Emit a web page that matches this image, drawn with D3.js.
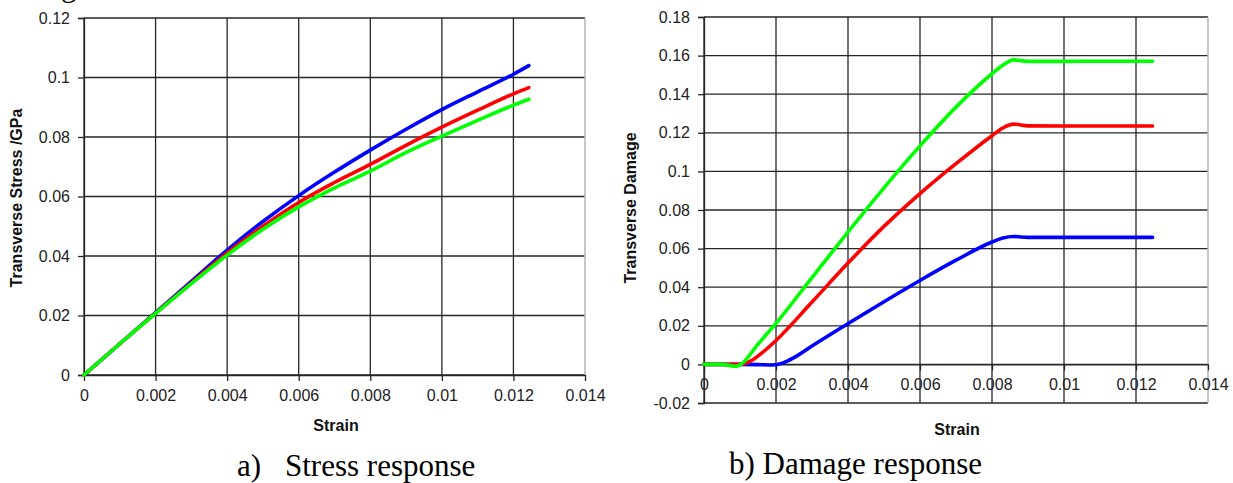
<!DOCTYPE html>
<html>
<head>
<meta charset="utf-8">
<script src="https://cdn.jsdelivr.net/npm/d3@7"></script>
<style>
  html, body { margin: 0; padding: 0; background: #fff; }
  svg { display: block; }
</style>
</head>
<body>
<svg id="chart" width="1233" height="483"></svg>
<script>
// ---------- data ----------
const stressX = [0, 0.001, 0.002, 0.003, 0.004, 0.005, 0.006, 0.007, 0.008, 0.009, 0.010, 0.011, 0.012, 0.01243];
const stressBlue  = [0, 0.0105, 0.0210, 0.0315, 0.0420, 0.0516, 0.0603, 0.0682, 0.0756, 0.0826, 0.0892, 0.0952, 0.1011, 0.1040];
const stressRed   = [0, 0.0105, 0.0208, 0.0310, 0.0410, 0.0500, 0.0580, 0.0647, 0.0708, 0.0772, 0.0833, 0.0890, 0.0945, 0.0966];
const stressGreen = [0, 0.0105, 0.0207, 0.0307, 0.0403, 0.0490, 0.0565, 0.0629, 0.0685, 0.0748, 0.0803, 0.0856, 0.0907, 0.0927];

const damageBlueX = [0, 0.0005, 0.001, 0.0015, 0.0019, 0.0022, 0.0025, 0.003, 0.004, 0.005, 0.006, 0.007, 0.008, 0.0083, 0.0086, 0.009, 0.010, 0.011, 0.012, 0.01246];
const damageBlue  = [0, 0, 0, -0.0001, -0.0003, 0.0008, 0.0035, 0.0095, 0.0211, 0.0325, 0.0435, 0.0540, 0.0634, 0.0655, 0.0663, 0.0658, 0.0658, 0.0658, 0.0658, 0.0658];
const damageRedX  = [0, 0.0005, 0.001, 0.0013, 0.0016, 0.002, 0.003, 0.004, 0.005, 0.006, 0.007, 0.008, 0.0083, 0.0086, 0.009, 0.010, 0.011, 0.012, 0.01246];
const damageRed   = [0, 0, 0, 0.0018, 0.0058, 0.0124, 0.0323, 0.0525, 0.0715, 0.0885, 0.1040, 0.1185, 0.1225, 0.1245, 0.1236, 0.1235, 0.1235, 0.1235, 0.1235];
const damageGreenX = [0, 0.0005, 0.0009, 0.00105, 0.0015, 0.002, 0.003, 0.004, 0.005, 0.006, 0.007, 0.008, 0.0083, 0.0086, 0.009, 0.010, 0.011, 0.012, 0.01246];
const damageGreen  = [0, 0, -0.001, 0.0004, 0.0105, 0.0213, 0.0450, 0.0686, 0.0915, 0.1132, 0.1333, 0.1506, 0.1550, 0.1578, 0.1570, 0.1570, 0.1571, 0.1571, 0.1571];

const xTicks = [0, 0.002, 0.004, 0.006, 0.008, 0.01, 0.012, 0.014];
const stressTicks = [0, 0.02, 0.04, 0.06, 0.08, 0.1, 0.12];
const damageTicks = [-0.02, 0, 0.02, 0.04, 0.06, 0.08, 0.1, 0.12, 0.14, 0.16, 0.18];

const seriesColors = ["#0000ff", "#ff0000", "#00ff00"];
const titles = { stressY: "Transverse Stress /GPa", damageY: "Transverse Damage", x: "Strain" };
const captions = { a: "a)", aText: "Stress response", b: "b) Damage response" };

// ---------- drawing ----------
const svg = d3.select("#chart");
const fmt = d => String(+(+d).toFixed(4));
const gridColor = "#262626";
const labelColor = "#222";

// clipped letter from the text line above the figure (cut by the picture's top edge)
svg.append("text").attr("x", 61).attr("y", -4)
  .attr("font-family", "Liberation Serif, Times New Roman, serif")
  .attr("font-size", 31).attr("fill", "#000").text("g");

function drawChart(cfg) {
  const x = d3.scaleLinear().domain([0, 0.014]).range([cfg.left, cfg.right]);
  const y = d3.scaleLinear().domain(cfg.yDomain).range([cfg.bottom, cfg.top]);
  const g = svg.append("g");

  // vertical grid
  g.append("g").selectAll("line").data(xTicks.slice(0, -1)).join("line")
    .attr("x1", d => x(d)).attr("x2", d => x(d))
    .attr("y1", cfg.top).attr("y2", cfg.bottom)
    .attr("stroke", gridColor).attr("stroke-width", 1.3);
  // horizontal grid
  g.append("g").selectAll("line").data(cfg.yTicks).join("line")
    .attr("x1", cfg.left).attr("x2", cfg.right)
    .attr("y1", d => y(d)).attr("y2", d => y(d))
    .attr("stroke", gridColor).attr("stroke-width", 1.3);
  // right border (light)
  g.append("line").attr("x1", x(0.014)).attr("x2", x(0.014))
    .attr("y1", cfg.top).attr("y2", cfg.bottom)
    .attr("stroke", "#b5b5b5").attr("stroke-width", 1.5);

  // y axis
  const yAxis = d3.axisLeft(y).tickValues(cfg.yTicks).tickFormat(fmt).tickSize(6).tickPadding(8);
  const ya = g.append("g").attr("transform", `translate(${cfg.left},0)`).call(yAxis);
  ya.select(".domain").attr("stroke", gridColor).attr("stroke-width", 1.3);
  ya.selectAll(".tick line").attr("stroke", gridColor).attr("stroke-width", 1.3);
  ya.selectAll("text").attr("font-family", "Liberation Sans, Arial, sans-serif")
    .attr("font-size", 16).attr("fill", labelColor);

  // x axis (at y = 0)
  const xAxis = d3.axisBottom(x).tickValues(xTicks).tickFormat(fmt).tickSize(6).tickPadding(cfg.xPad).tickSizeOuter(0);
  const xa = g.append("g").attr("transform", `translate(0,${y(0)})`).call(xAxis);
  xa.select(".domain").attr("stroke", gridColor).attr("stroke-width", 1.3);
  xa.selectAll(".tick line").attr("stroke", gridColor).attr("stroke-width", 1.3);
  xa.selectAll("text").attr("font-family", "Liberation Sans, Arial, sans-serif")
    .attr("font-size", 16).attr("fill", labelColor);

  // series
  const line = d3.line().x(d => x(d[0])).y(d => y(d[1])).curve(d3.curveMonotoneX);
  cfg.series.forEach((s, i) => {
    g.append("path").datum(s.x.map((v, k) => [v, s.y[k]]))
      .attr("d", line).attr("fill", "none")
      .attr("stroke", seriesColors[i]).attr("stroke-width", 3.6)
      .attr("stroke-linecap", "round").attr("stroke-linejoin", "round");
  });

  // axis titles
  g.append("text")
    .attr("transform", `translate(${cfg.yTitleX},${cfg.yTitleY}) rotate(-90)`)
    .attr("text-anchor", "middle").attr("dominant-baseline", "middle")
    .attr("font-family", "Liberation Sans, Arial, sans-serif")
    .attr("font-weight", "bold").attr("font-size", 16).attr("fill", "#111")
    .text(cfg.yTitle);
  g.append("text")
    .attr("x", cfg.xTitleX).attr("y", cfg.xTitleY)
    .attr("text-anchor", "middle")
    .attr("font-family", "Liberation Sans, Arial, sans-serif")
    .attr("font-weight", "bold").attr("font-size", 16).attr("fill", "#111")
    .text(titles.x);
}

drawChart({
  left: 84, right: 585, top: 18, bottom: 375,
  yDomain: [0, 0.12], yTicks: stressTicks, xPad: 9,
  series: [
    { x: stressX, y: stressBlue },
    { x: stressX, y: stressRed },
    { x: stressX, y: stressGreen }
  ],
  yTitle: titles.stressY, yTitleX: 18, yTitleY: 198,
  xTitleX: 336, xTitleY: 431
});

drawChart({
  left: 704, right: 1208, top: 17, bottom: 403,
  yDomain: [-0.02, 0.18], yTicks: damageTicks, xPad: 8,
  series: [
    { x: damageBlueX, y: damageBlue },
    { x: damageRedX, y: damageRed },
    { x: damageGreenX, y: damageGreen }
  ],
  yTitle: titles.damageY, yTitleX: 632, yTitleY: 208,
  xTitleX: 957, xTitleY: 435
});

// captions
const capFont = "Liberation Serif, Times New Roman, serif";
svg.append("text").attr("x", 237).attr("y", 476)
  .attr("font-family", capFont).attr("font-size", 31).attr("fill", "#000").text(captions.a);
svg.append("text").attr("x", 285).attr("y", 476)
  .attr("font-family", capFont).attr("font-size", 31).attr("fill", "#000").text(captions.aText);
svg.append("text").attr("x", 729).attr("y", 474)
  .attr("font-family", capFont).attr("font-size", 31).attr("fill", "#000").text(captions.b);
</script>
</body>
</html>
